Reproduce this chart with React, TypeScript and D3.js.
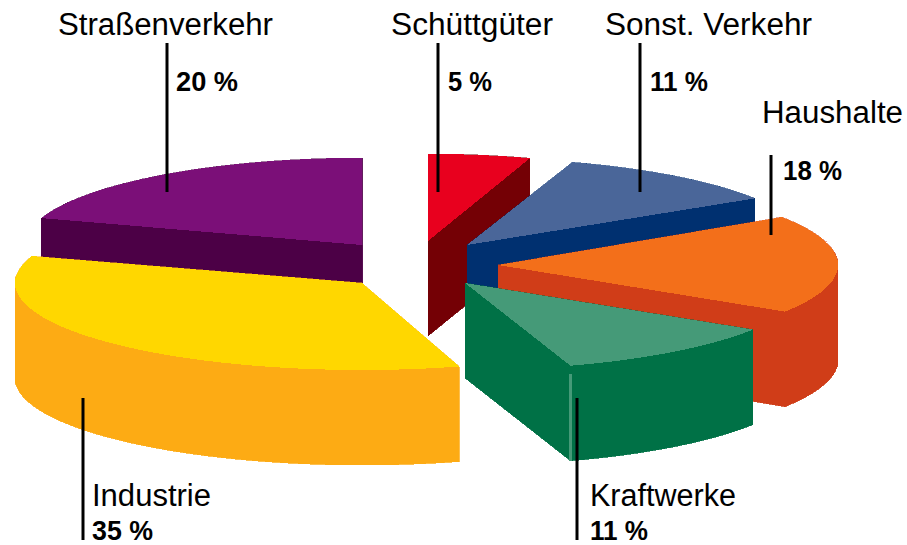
import React from "react";
import * as d3 from "d3";

const categories = ["Schüttgüter", "Sonst. Verkehr", "Haushalte", "Kraftwerke", "Industrie", "Straßenverkehr"];
const shares = [5, 11, 18, 11, 35, 20];
const topColors = ["#E8001E", "#4A6699", "#F36F1A", "#459A78", "#FFD700", "#7B0F78"];
const sideColors = ["#740005", "#003070", "#D03D18", "#007146", "#FDAB14", "#4C0046"];

// layout: apex of each exploded slice, depth drawing order, label placement
const apexX = [428, 467, 498, 465, 362, 362];
const apexY = [241, 245, 265, 283, 283, 245];
const radiusX = [330, 341, 340, 341, 347, 337];
const startTrimDeg = [0, 0, -1, 0, 1.7, 0];
const drawOrder = [5, 0, 1, 2, 4, 3];
const nameX = [391, 605, 762, 590, 92, 58];
const nameY = [35, 35, 123, 506, 506, 35];
const nameW = [162, 207, 141, 146, 119, 215];
const pctX = [448, 650, 783, 590, 92, 176];
const pctY = [91, 91, 180, 540, 540, 91];
const pctW = [44, 58, 59, 58, 61, 62];
const leadX = [438, 640, 771, 577, 83, 167];
const leadY1 = [43, 43, 155, 398, 398, 43];
const leadY2 = [192, 192, 235, 540, 540, 192];

const RY = 87;
const DEPTH = 95;
const W = 907;
const H = 545;

const project = (i: number, a: number, dy = 0): [number, number] => [
  apexX[i] + radiusX[i] * Math.sin(a),
  apexY[i] - RY * Math.cos(a) + dy,
];

const arcs = d3.pie<number>().sort(null).value((d) => d)(shares);
const line = d3.line();

function rim(i: number, a0: number, a1: number, dy = 0): [number, number][] {
  const n = 96;
  return d3.range(n + 1).map((k) => project(i, a0 + ((a1 - a0) * k) / n, dy));
}

export default function App() {
  return (
    <svg
      width={W}
      height={H}
      viewBox={`0 0 ${W} ${H}`}
      style={{ position: "absolute", left: 0, top: 0, background: "#fff" }}
      fontFamily="'Liberation Sans', Arial, sans-serif"
    >
      {drawOrder.map((i) => {
        const a0 = arcs[i].startAngle + (startTrimDeg[i] * Math.PI) / 180;
        const a1 = arcs[i].endAngle;
        const apex: [number, number] = [apexX[i], apexY[i]];
        const apexLow: [number, number] = [apexX[i], apexY[i] + DEPTH];
        const topRim = rim(i, a0, a1);
        const lowRim = rim(i, a0, a1, DEPTH);
        const last = topRim.length - 1;
        const strips = topRim.slice(0, last).map((p, k) => [p, topRim[k + 1], lowRim[k + 1], lowRim[k]]);
        const faces = [
          [apexLow, ...lowRim],
          [apex, topRim[0], lowRim[0], apexLow],
          [apex, topRim[last], lowRim[last], apexLow],
          ...strips,
        ];
        return (
          <g key={categories[i]} shapeRendering="crispEdges">
            {faces.map((f, k) => (
              <path key={k} d={line(f as any) + "Z"} fill={sideColors[i]} stroke={sideColors[i]} strokeWidth={0.5} />
            ))}
            <path d={line([apex, ...topRim] as any) + "Z"} fill={topColors[i]} />
            {categories[i] === "Kraftwerke" && (
              <line
                x1={topRim[last][0]}
                x2={topRim[last][0]}
                y1={topRim[last][1] + 8}
                y2={lowRim[last][1]}
                stroke={topColors[i]}
                strokeWidth={3}
              />
            )}
          </g>
        );
      })}
      {categories.map((c, i) => (
        <g key={c}>
          <line x1={leadX[i]} x2={leadX[i]} y1={leadY1[i]} y2={leadY2[i]} stroke="#000" strokeWidth={3} />
          <text x={nameX[i]} y={nameY[i]} fontSize={31} fill="#000" textLength={nameW[i]} lengthAdjust="spacingAndGlyphs">{c}</text>
          <text x={pctX[i]} y={pctY[i]} fontSize={28} fontWeight="bold" fill="#000" textLength={pctW[i]} lengthAdjust="spacingAndGlyphs">{`${shares[i]} %`}</text>
        </g>
      ))}
    </svg>
  );
}
